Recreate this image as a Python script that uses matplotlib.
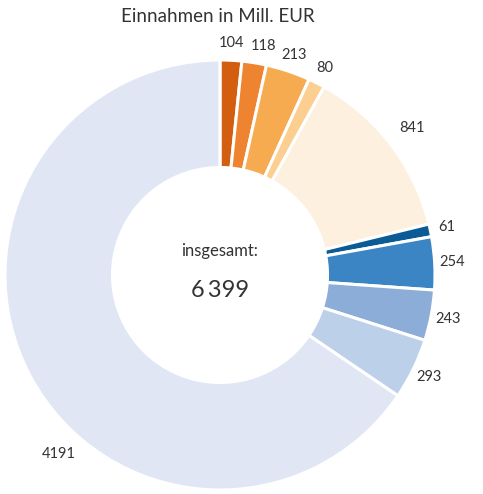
import numpy as np
import matplotlib.pyplot as plt

plt.rcParams['font.family'] = ['Lato', 'DejaVu Sans']

values = [104, 118, 213, 80, 841, 61, 254, 243, 293, 4191]
colors = ['#d35e10', '#ef8430', '#f6ab51', '#fcce90', '#fdf0de',
          '#0b5b97', '#3c85c4', '#8cadd7', '#bdd0ea', '#e0e6f4']
total_shown = 6399
title = 'Einnahmen in Mill. EUR'
center_label = 'insgesamt:'

W, H = 483, 494
fig = plt.figure(figsize=(W / 100, H / 100), dpi=100)
cx, cy, R = 220, 275, 215
ax = fig.add_axes([(cx - R) / W, (H - cy - R) / H, 2 * R / W, 2 * R / H])

labels = [str(v) for v in values]
wedges, texts = ax.pie(values, colors=colors, startangle=90, counterclock=False,
                       radius=1.0, labels=labels, labeldistance=1.08,
                       wedgeprops=dict(width=0.5, edgecolor='white', linewidth=2.2),
                       textprops=dict(fontsize=10.5, color='#333333'))
for t in texts:
    t.set_ha('center')
    t.set_va('center')

# big slice label sits further round than its mid-angle
ang = np.deg2rad(222)
texts[-1].set_position((1.12 * np.sin(ang), 1.12 * np.cos(ang)))
# 841 label slightly further out, 118 nudged right
x, y = texts[4].get_position()
texts[4].set_position((x * 1.04, y * 1.04))
x, y = texts[1].get_position()
texts[1].set_position((x + 0.03, y))

ax.set_xlim(-1, 1)
ax.set_ylim(-1, 1)
ax.set_aspect('equal')
ax.axis('off')

ax.text(0, 0.11, center_label, ha='center', va='center', fontsize=12, color='#333333')
ax.text(0, -0.07, f'{total_shown:,}'.replace(',', '\u2009'), ha='center', va='center',
        fontsize=17, color='#333333')
fig.text(218 / W, 1 - 16 / H, title, ha='center', va='center', fontsize=13.5, color='#333333')

fig.savefig('out.png', dpi=100)
